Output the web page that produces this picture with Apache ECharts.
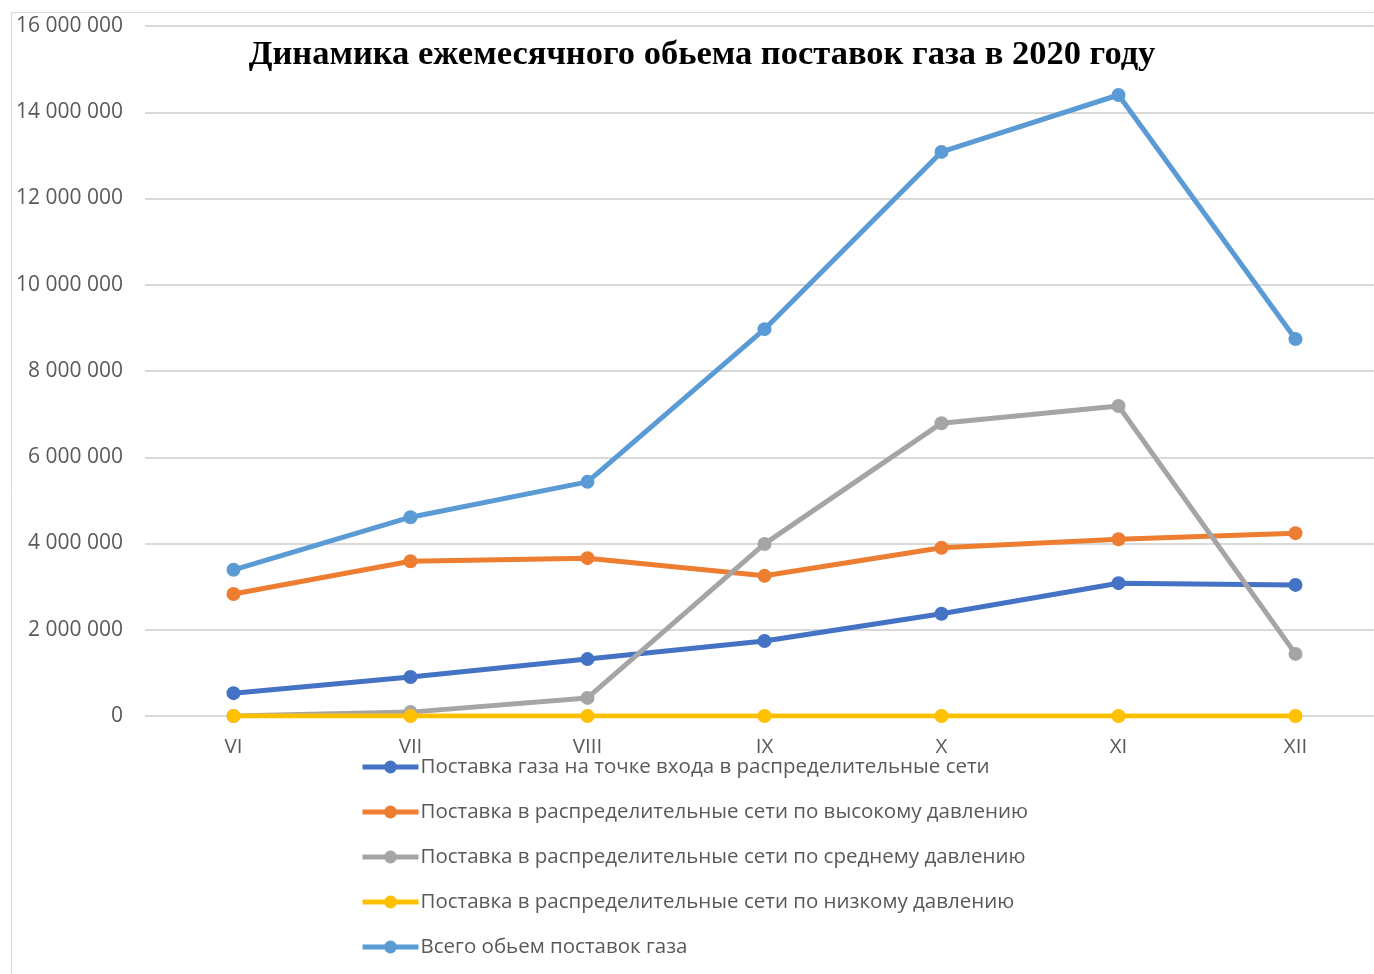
<!DOCTYPE html>
<html><head><meta charset="utf-8">
<script src="https://cdn.jsdelivr.net/npm/echarts@6/dist/echarts.min.js"></script>
<style>html,body{margin:0;padding:0;background:#fff}#c{width:1374px;height:974px}</style>
</head><body><div id="c"></div>
<script>
const categories = ['VI','VII','VIII','IX','X','XI','XII'];
const seriesNames = [
  'Поставка газа на точке входа в распределительные сети',
  'Поставка в распределительные сети по высокому давлению',
  'Поставка в распределительные сети по среднему давлению',
  'Поставка в распределительные сети по низкому давлению',
  'Всего обьем поставок газа'
];
const entryPoint = [530000, 905000, 1320000, 1740000, 2370000, 3080000, 3040000];
const highPressure = [2830000, 3590000, 3660000, 3250000, 3900000, 4100000, 4240000];
const mediumPressure = [0, 90000, 420000, 3990000, 6790000, 7190000, 1440000];
const lowPressure = [0, 0, 0, 0, 0, 0, 0];
const total = [3390000, 4610000, 5430000, 8970000, 13080000, 14400000, 8740000];
const colors = ['#4472C4','#ED7D31','#A5A5A5','#FFC000','#5B9BD5'];
const allData = [entryPoint, highPressure, mediumPressure, lowPressure, total];

const chart = echarts.init(document.getElementById('c'));
const fmt = v => String(v).replace(/\B(?=(\d{3})+(?!\d))/g, ' ');
chart.setOption({
  animation: false,
  color: colors,
  title: {
    text: 'Динамика ежемесячного обьема поставок газа в 2020 году',
    left: 697, top: 33, textAlign: 'center',
    textStyle: {fontFamily: 'Liberation Serif', fontWeight: 'bold', fontSize: 34.5, color: '#000'}
  },
  graphic: [{type:'rect', shape:{x:11.5,y:12.5,width:1400,height:1000}, style:{fill:'none', stroke:'#d9d9d9', lineWidth:1}, silent:true}],
  legend: {
    orient: 'vertical', left: 360, top: 755, itemGap: 21, padding: 0,
    itemWidth: 56, itemHeight: 16,
    lineStyle: {width: 5},
    textStyle: {fontFamily: 'Open Sans', fontSize: 20.5, lineHeight: 24, color: '#595959', padding:[0,0,0,-3]},
    data: seriesNames
  },
  grid: {left: 145, top: 26, width: 1239, height: 690, outerBoundsMode: 'none', containLabel: false},
  xAxis: {
    type: 'category', data: categories, boundaryGap: true,
    axisLine: {show: false}, axisTick: {show: false},
    axisLabel: {fontFamily: 'Open Sans', fontSize: 20.5, color: '#595959', margin: 21}
  },
  yAxis: {
    type: 'value', min: 0, max: 16000000, interval: 2000000,
    axisLine: {show: false}, axisTick: {show: false},
    splitLine: {lineStyle: {color: '#d9d9d9', width: 2}},
    axisLabel: {fontFamily: 'Open Sans', fontSize: 21, color: '#595959', margin: 22, formatter: fmt}
  },
  series: seriesNames.map((n, i) => ({
    name: n, type: 'line', data: allData[i],
    symbol: 'circle', symbolSize: 14, showSymbol: true,
    lineStyle: {width: 5, color: colors[i]},
    itemStyle: {color: colors[i]},
    z: 2 + (i === 3 ? 1 : 0)
  }))
});
</script></body></html>
